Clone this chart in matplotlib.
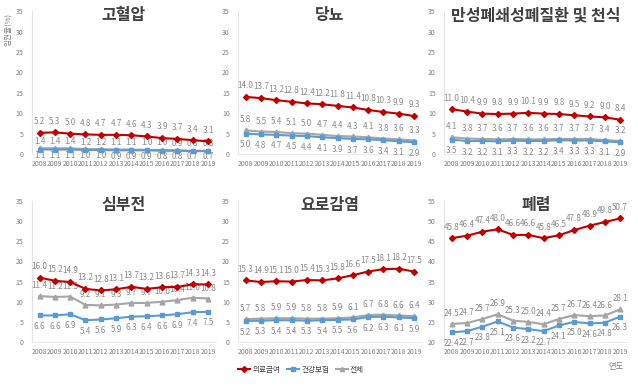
import numpy as np
import matplotlib.pyplot as plt
from matplotlib.lines import Line2D

plt.rcParams['font.family'] = ['Noto Sans CJK KR', 'DejaVu Sans']

years = ['2008', '2009', '2010', '2011', '2012', '2013',
         '2014', '2015', '2016', '2017', '2018', '2019']

titles = ['고혈압', '당뇨', '만성폐쇄성폐질환 및 천식', '심부전', '요로감염', '폐렴']

# 의료급여
medicaid = [
    [5.2, 5.3, 5.0, 4.8, 4.7, 4.7, 4.6, 4.3, 3.9, 3.7, 3.4, 3.1],
    [14.0, 13.7, 13.2, 12.8, 12.4, 12.2, 11.8, 11.4, 10.8, 10.3, 9.9, 9.3],
    [11.0, 10.4, 9.9, 9.8, 9.9, 10.1, 9.9, 9.8, 9.5, 9.2, 9.0, 8.4],
    [16.0, 15.2, 14.9, 13.2, 12.8, 13.1, 13.7, 13.2, 13.6, 13.7, 14.3, 14.3],
    [15.3, 14.9, 15.1, 15.0, 15.4, 15.3, 15.8, 16.6, 17.5, 18.1, 18.2, 17.5],
    [45.8, 46.4, 47.4, 48.0, 46.6, 46.6, 45.8, 46.5, 47.8, 48.9, 49.8, 50.7],
]
# 건강보험
insurance = [
    [1.1, 1.1, 1.1, 1.0, 1.0, 0.9, 0.9, 0.9, 0.8, 0.8, 0.7, 0.7],
    [5.0, 4.8, 4.7, 4.5, 4.4, 4.1, 3.9, 3.7, 3.6, 3.4, 3.1, 2.9],
    [3.5, 3.2, 3.2, 3.1, 3.3, 3.2, 3.2, 3.4, 3.3, 3.3, 3.1, 2.9],
    [6.6, 6.6, 6.9, 5.4, 5.6, 5.9, 6.3, 6.4, 6.6, 6.9, 7.4, 7.5],
    [5.2, 5.3, 5.4, 5.4, 5.3, 5.4, 5.5, 5.6, 6.2, 6.3, 6.1, 5.9],
    [22.4, 22.7, 23.8, 25.1, 23.6, 23.2, 22.7, 24.1, 25.0, 24.6, 24.8, 26.3],
]
# 전체
total = [
    [1.4, 1.4, 1.4, 1.2, 1.2, 1.1, 1.1, 1.0, 1.0, 0.9, 0.8, 0.8],
    [5.8, 5.5, 5.4, 5.1, 5.0, 4.7, 4.4, 4.3, 4.1, 3.8, 3.6, 3.3],
    [4.1, 3.8, 3.7, 3.6, 3.7, 3.6, 3.6, 3.7, 3.7, 3.7, 3.4, 3.2],
    [11.4, 11.2, 11.3, 9.2, 9.1, 9.3, 9.7, 9.7, 10.0, 10.4, 11.0, 10.8],
    [5.7, 5.8, 5.9, 5.9, 5.8, 5.8, 5.9, 6.1, 6.7, 6.8, 6.6, 6.4],
    [24.5, 24.7, 25.7, 26.9, 25.3, 25.0, 24.4, 25.7, 26.7, 26.4, 26.6, 28.1],
]

y_limits = [(0, 35)] * 5 + [(20, 55)]

RED = '#C00000'
BLUE = '#5B9BD5'
GRAY = '#A5A5A5'
LABEL = '#8A8A8A'

fig = plt.figure(figsize=(6.38, 3.86), dpi=100)

lefts = [0.050, 0.373, 0.696]
width = 0.288
rows = [(0.601, 0.370), (0.114, 0.365)]

x = np.arange(len(years))

for k in range(6):
    bottom, height = rows[k // 3]
    ax = fig.add_axes([lefts[k % 3], bottom, width, height])

    ax.plot(x, total[k], color=GRAY, lw=1.5, marker='^', ms=3.5, zorder=2)
    ax.plot(x, insurance[k], color=BLUE, lw=1.5, marker='s', ms=3.2, zorder=3)
    ax.plot(x, medicaid[k], color=RED, lw=1.5, marker='D', ms=3, zorder=4)

    # the hypertension panel has its lower labels packed tighter
    up_off, low_off = (5.0, -4.2) if k == 0 else (7.5, -8)
    for xi in x:
        ax.annotate(f'{medicaid[k][xi]:.1f}', (xi, medicaid[k][xi]), xytext=(0, 8),
                    textcoords='offset points', ha='center', va='center',
                    fontsize=5.8, color=LABEL)
        ax.annotate(f'{total[k][xi]:.1f}', (xi, total[k][xi]), xytext=(0, up_off),
                    textcoords='offset points', ha='center', va='center',
                    fontsize=5.8, color=LABEL)
        ax.annotate(f'{insurance[k][xi]:.1f}', (xi, insurance[k][xi]), xytext=(0, low_off),
                    textcoords='offset points', ha='center', va='center',
                    fontsize=5.8, color=LABEL)

    lo, hi = y_limits[k]
    ax.set_ylim(lo, hi)
    ax.set_yticks(np.arange(lo, hi + 1, 5))
    ax.set_xlim(-0.5, 11.5)
    ax.set_xticks(x)
    ax.set_xticklabels(years)
    ax.tick_params(axis='x', length=0, pad=4, labelsize=5, colors='#7F7F7F')
    ax.tick_params(axis='y', length=0, pad=6, labelsize=5, colors='#7F7F7F')

    for side in ['top', 'right']:
        ax.spines[side].set_visible(False)
    ax.spines['left'].set_color('#E3E3E3')
    ax.spines['bottom'].set_color('#EDEDED')

    ax.text(0.5, 0.97, titles[k], transform=ax.transAxes, ha='center', va='center',
            fontsize=11.5, fontweight='bold', color='#404040')

fig.text(0.013, 0.925, '입원율(%)', rotation=90, ha='center', va='center',
         fontsize=5.5, color='#7F7F7F')
fig.text(0.965, 0.05, '연도', ha='center', va='center', fontsize=6, color='#7F7F7F')

handles = [
    Line2D([], [], color=RED, lw=1.5, marker='D', ms=3),
    Line2D([], [], color=BLUE, lw=1.5, marker='s', ms=3),
    Line2D([], [], color=GRAY, lw=1.5, marker='^', ms=3),
]
fig.legend(handles, ['의료급여', '건강보험', '전체'], loc='center',
           bbox_to_anchor=(0.472, 0.042), ncol=3, frameon=False,
           fontsize=5.5, handlelength=1.6, columnspacing=0.8, handletextpad=0.3,
           labelcolor='#404040')

fig.savefig('out.png', dpi=100)
